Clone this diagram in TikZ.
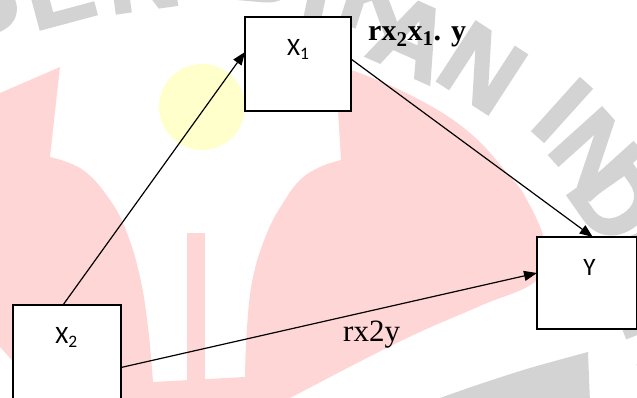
\documentclass[tikz,border=0pt]{standalone}
\usepackage{fontspec}
\setmainfont{Liberation Serif}
\newfontfamily\calibfont{Carlito}
\newfontfamily\wmfont{Liberation Sans}[BoldFeatures={FakeBold=3}]
\usetikzlibrary{arrows.meta}
\definecolor{wmpink}{RGB}{255,214,214}
\definecolor{wmyellow}{RGB}{255,255,204}
\definecolor{wmgray}{RGB}{211,211,211}
\tikzset{
  box/.style={draw=black, line width=1.4pt, fill=white, inner sep=0pt, outer sep=0pt},
  varlabel/.style={font={\calibfont\fontsize{25}{29}\selectfont}, inner sep=0pt, anchor=base},
  coeflabel/.style={font={\fontsize{30}{34}\selectfont}, inner sep=0pt, anchor=base west},
  conn/.style={line width=1.2pt, -{Triangle[length=13pt,width=10pt]}},
  wmletter/.style={font={\wmfont\bfseries\fontsize{102}{106}\selectfont}, text=wmgray, inner sep=0pt}
}
\begin{document}
\begin{tikzpicture}[x=1pt,y=1pt]
\useasboundingbox (0,0) rectangle (637,398);
\clip (0,0) rectangle (637,398);
% watermark
\fill[wmpink] (60,331) -- plot[smooth, tension=0.7] coordinates {(50,241) (83,228) (110,198) (127,165) (140,121) (148,71) (153,16)}
  -- (245,21) -- plot[smooth, tension=0.7] coordinates {(245,21) (247,71) (253,121) (267,165) (283,195) (300,218) (320,231) (341,238)}
  -- (338,288) -- (337,328) -- plot[smooth, tension=0.7] coordinates {(337,328) (357,326) (420,298) (470,265) (507,225) (527,198) (545,153) (537,118) (480,92) (420,66) (363,38) (290,0) (270,-10)}
  -- (55,-10) -- (0,51) -- (-10,55) -- (-10,300) -- (0,305) -- cycle;
\fill[wmpink] (187,10) rectangle (205,165);
\fill[wmyellow] (202,291) circle[radius=43];
\fill[wmgray] (440,-5) -- plot[smooth] coordinates {(440,0) (480,14) (530,30) (588,46)} -- (590,-5) -- cycle;
\foreach \l/\x/\y/\r [count=\i] in {P/-10/375/22, E/58/410/15, N/142/424/8, D/200/442/2, I/240/444/-2, D/268/432/-5, I/320/416/-12, K/380/400/-18, A/412/360/-24, N/482/330/-33, I/562/288/-42, N/596/244/-48, D/614/198/-55, O/645/128/-62, N/666/58/-68}
  \node[wmletter, rotate=\r] (wm\i) at (\x,\y) {\l};
% boxes
\node[box, minimum width=106pt, minimum height=94pt] (x1) at (298,334) {};
\node[box, minimum width=108pt, minimum height=95pt] (x2) at (67,45.5) {};
\node[box, minimum width=99.5pt, minimum height=92pt] (y) at (586.75,115) {};
% texts
\node[varlabel] (x1t) at (298.3,342) {X\textsubscript{1}};
\node[varlabel] (x2t) at (66.5,54.7) {X\textsubscript{2}};
\node[varlabel] (yt) at (589.5,122) {Y};
\node[coeflabel] (l1) at (368,357.3) {\bfseries rx\textsubscript{2}x\textsubscript{1}. y};
\node[coeflabel, font={\fontsize{31}{35}\selectfont}] (l2) at (343,56.3) {rx2y};
% connectors
\draw[conn] ([xshift=-4pt]x2.north) -- ([yshift=12pt]x1.west);
\draw[conn] ([yshift=5pt]x1.east) -- ([xshift=6pt]y.north);
\draw[conn] ([yshift=-15pt]x2.east) -- ([yshift=10pt]y.west);
\end{tikzpicture}
\end{document}
